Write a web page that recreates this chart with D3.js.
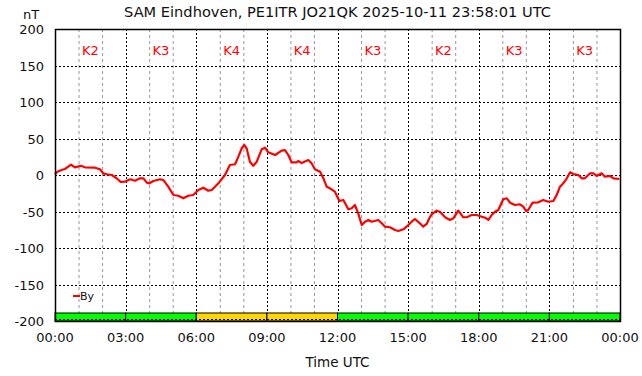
<!DOCTYPE html>
<html>
<head>
<meta charset="utf-8">
<script src="https://cdn.jsdelivr.net/npm/d3@7"></script>
<style>
  body { margin: 0; background: #fff; }
  svg { display: block; font-family: 'DejaVu Sans', sans-serif; }
</style>
</head>
<body>
<div class="chart"></div>
<script>
let w = 642, h = 376;
let margin = {left: 55, right: 22, top: 29, bottom: 55};

// hours since 00:00 UTC and By in nT
let hours = [0.00, 0.10, 0.28, 0.42, 0.56, 0.68, 0.85, 1.10, 1.27, 1.70, 1.91, 2.05, 2.20, 2.41, 2.62, 2.79, 2.97,
  3.19, 3.40, 3.61, 3.75, 3.90, 4.01, 4.18, 4.46, 4.60, 4.81, 5.03, 5.24, 5.45, 5.66, 5.87, 6.09, 6.30, 6.51,
  6.66, 6.94, 7.22, 7.43, 7.65, 7.79, 7.93, 8.04, 8.14, 8.28, 8.42, 8.57, 8.78, 8.92, 9.06, 9.35, 9.63, 9.77,
  9.91, 10.05, 10.27, 10.33, 10.48, 10.76, 10.90, 11.04, 11.26, 11.40, 11.54, 11.68, 11.89, 12.08, 12.25, 12.46,
  12.60, 12.74, 12.88, 13.03, 13.17, 13.31, 13.45, 13.73, 13.88, 14.02, 14.23, 14.44, 14.58, 14.80, 15.01,
  15.15, 15.29, 15.50, 15.64, 15.79, 15.90, 16.00, 16.21, 16.35, 16.57, 16.78, 16.92, 17.13, 17.20, 17.34,
  17.49, 17.70, 17.91, 18.13, 18.27, 18.41, 18.55, 18.69, 18.83, 19.04, 19.19, 19.33, 19.54, 19.75, 19.89,
  20.01, 20.10, 20.29, 20.53, 20.74, 20.95, 21.17, 21.31, 21.45, 21.59, 21.74, 21.88, 22.02, 22.23, 22.37,
  22.51, 22.73, 22.87, 23.01, 23.22, 23.36, 23.58, 23.72, 23.97];
let byValues = [1, 4.5, 6.8, 8.2, 11.4, 14.1, 10.5, 12.7, 10.5, 10.0, 7.8, 2.3, 1.0, 0, -4.5, -9.6, -9.2,
  -5.9, -7.8, -4.5, -4.5, -10.5, -11.4, -8.2, -5.9, -6.8, -16.0, -27.4, -28.4, -31.9, -28.4, -27.4, -20.5, -17.4, -21.5,
  -20.5, -11.4, 0, 13.7, 14.7, 25.1, 36.6, 41.1, 36.6, 18.2, 12.7, 18.2, 35.2, 37.4, 31.1, 27.4, 33.3, 34.2,
  27.4, 17.4, 17.4, 19.2, 16.4, 20.5, 16.0, 7.8, 4.5, -4.5, -16.0, -18.2, -22.9, -35.6, -34.2, -47.0,
  -45.6, -41.1, -52.5, -68.5, -64.0, -61.6, -64.0, -61.6, -66.2, -70.8, -71.6, -75.3, -76.7, -74.4, -68.5,
  -64.0, -60.3, -66.2, -70.8, -67.1, -59.3, -53.8, -48.9, -50.3, -57.9, -61.6, -59.3, -48.9, -51.6, -57.9,
  -57.9, -54.8, -54.8, -57.1, -58.5, -61.6, -54.8, -50.3, -47.9, -33.3, -31.9, -37.9, -41.1, -40.1, -43.4,
  -49.3, -47.9, -37.9, -37.4, -34.2, -36.6, -35.6, -27.4, -16.0, -11.4, -4.5, 3.7, 1.4, 0, -4.5,
  -4.5, 2.3, 2.3, -1.4, 2.3, -2.3, -1.4, -4.5, -5.5];

// K index per 3-hour block
let kBlocks = [0, 3, 6, 9, 12, 15, 18, 21];
let kValues = [2, 3, 4, 4, 3, 2, 3, 3];

let xTickHours = [0, 3, 6, 9, 12, 15, 18, 21, 24];
let xTickLabels = ['00:00', '03:00', '06:00', '09:00', '12:00', '15:00', '18:00', '21:00', '00:00'];
let yTicks = [-200, -150, -100, -50, 0, 50, 100, 150, 200];

let svg = d3.select('.chart').append('svg').attr('width', w).attr('height', h);

let xScale = d3.scaleLinear().domain([0, 24]).range([margin.left, w - margin.right]);
let yScale = d3.scaleLinear().domain([-200, 200]).range([h - margin.bottom, margin.top]);

/* ==== GRID ===== */

let hourLines = d3.range(1, 24).filter(function (d) { return d % 3 !== 0; });
svg.append('g')
    .selectAll('line')
    .data(hourLines)
    .enter().append('line')
    .attr('x1', function (d) { return xScale(d) + 0.5; })
    .attr('x2', function (d) { return xScale(d) + 0.5; })
    .attr('y1', yScale(200))
    .attr('y2', yScale(-200))
    .attr('stroke', '#999')
    .attr('stroke-dasharray', '3,3');

svg.append('g')
    .selectAll('line')
    .data(xTickHours.slice(1, -1))
    .enter().append('line')
    .attr('x1', function (d) { return Math.round(xScale(d)) + 0.5; })
    .attr('x2', function (d) { return Math.round(xScale(d)) + 0.5; })
    .attr('y1', yScale(200))
    .attr('y2', yScale(-200))
    .attr('stroke', '#000')
    .attr('stroke-dasharray', '2,2');

svg.append('g')
    .selectAll('line')
    .data(yTicks.slice(1, -1))
    .enter().append('line')
    .attr('x1', xScale(0))
    .attr('x2', xScale(24))
    .attr('y1', function (d) { return Math.round(yScale(d)) + 0.5; })
    .attr('y2', function (d) { return Math.round(yScale(d)) + 0.5; })
    .attr('stroke', '#000')
    .attr('stroke-dasharray', '2,2');

/* ==== K INDEX BARS ===== */

svg.append('g')
    .selectAll('rect')
    .data(kBlocks)
    .enter().append('rect')
    .attr('x', function (d) { return xScale(d); })
    .attr('y', yScale(-200) - 8)
    .attr('width', function (d) { return xScale(d + 3) - xScale(d); })
    .attr('height', 8)
    .attr('fill', function (d, i) { return kValues[i] >= 4 ? '#ffd700' : '#00ff00'; })
    .attr('stroke', '#000')
    .attr('stroke-width', 1);

svg.append('line')
    .attr('x1', xScale(0)).attr('x2', xScale(24))
    .attr('y1', yScale(-200) - 1.5).attr('y2', yScale(-200) - 1.5)
    .attr('stroke', '#000')
    .attr('stroke-dasharray', '2,2');

svg.append('g')
    .selectAll('text')
    .data(kBlocks)
    .enter().append('text')
    .attr('x', function (d) { return xScale(d + 1.5); })
    .attr('y', 55)
    .attr('text-anchor', 'middle')
    .attr('fill', '#ff0000')
    .attr('font-size', 13)
    .text(function (d, i) { return 'K' + kValues[i]; });

/* ==== LINE ===== */

let line = d3.line()
    .x(function (d) { return xScale(d); })
    .y(function (d, i) { return yScale(byValues[i]); });

svg.append('path')
    .datum(hours)
    .attr('d', line)
    .attr('fill', 'none')
    .attr('stroke', '#ff0000')
    .attr('stroke-width', 2.2)
    .attr('stroke-linejoin', 'round');

/* ==== FRAME & AXES ===== */

svg.append('rect')
    .attr('x', xScale(0) + 0.5)
    .attr('y', yScale(200) + 0.5)
    .attr('width', xScale(24) - xScale(0))
    .attr('height', yScale(-200) - yScale(200))
    .attr('fill', 'none')
    .attr('stroke', '#000')
    .attr('stroke-width', 1.5);

svg.append('g')
    .selectAll('text')
    .data(yTicks)
    .enter().append('text')
    .attr('x', 44)
    .attr('y', function (d) { return yScale(d) + 5; })
    .attr('text-anchor', 'end')
    .attr('font-size', 13)
    .attr('fill', '#111')
    .text(function (d) { return d; });

svg.append('g')
    .selectAll('text')
    .data(xTickHours)
    .enter().append('text')
    .attr('x', function (d) { return xScale(d); })
    .attr('y', 342)
    .attr('text-anchor', 'middle')
    .attr('font-size', 13)
    .attr('fill', '#111')
    .text(function (d, i) { return xTickLabels[i]; });

/* ==== LABELS ===== */

svg.append('text')
    .attr('x', (xScale(0) + xScale(24)) / 2)
    .attr('y', 17)
    .attr('text-anchor', 'middle')
    .attr('font-size', 14.6)
    .attr('fill', '#111')
    .text('SAM Eindhoven, PE1ITR JO21QK 2025-10-11 23:58:01 UTC');

svg.append('text')
    .attr('x', 31)
    .attr('y', 19)
    .attr('text-anchor', 'middle')
    .attr('font-size', 13)
    .attr('fill', '#111')
    .text('nT');

svg.append('text')
    .attr('x', (xScale(0) + xScale(24)) / 2)
    .attr('y', 367)
    .attr('text-anchor', 'middle')
    .attr('font-size', 13.5)
    .attr('fill', '#111')
    .text('Time UTC');

svg.append('line')
    .attr('x1', 73).attr('x2', 80)
    .attr('y1', 296).attr('y2', 296)
    .attr('stroke', '#ff0000')
    .attr('stroke-width', 2);

svg.append('text')
    .attr('x', 80)
    .attr('y', 300)
    .attr('font-size', 11)
    .attr('fill', '#111')
    .text('By');
</script>
</body>
</html>
